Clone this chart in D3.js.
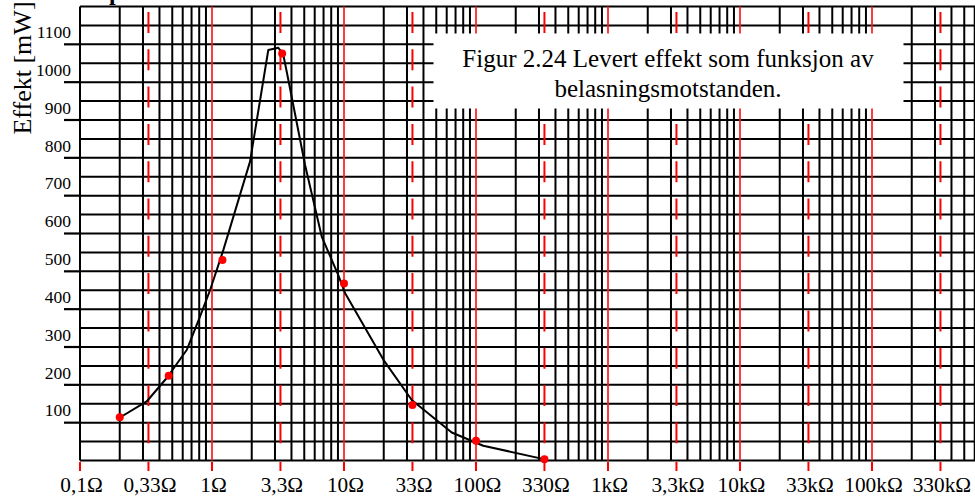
<!DOCTYPE html>
<html>
<head>
<meta charset="utf-8">
<script src="https://cdn.jsdelivr.net/npm/d3@7"></script>
<style>
  html, body { margin: 0; padding: 0; background: #fff; }
  svg { display: block; }
  text { font-family: "Liberation Serif", "Times New Roman", serif; fill: #000; }
</style>
</head>
<body>
<svg id="chart" width="975" height="497"></svg>
<script>
// Load resistance on the x axis (ohm), delivered power on the y axis (mW)
const xTickValues = [0.1, 0.33, 1, 3.3, 10, 33, 100, 330, 1000, 3300, 10000, 33000, 100000, 330000];
const xTickLabels = ["0,1Ω", "0,33Ω", "1Ω", "3,3Ω", "10Ω", "33Ω", "100Ω", "330Ω", "1kΩ", "3,3kΩ", "10kΩ", "33kΩ", "100kΩ", "330kΩ"];
const dashedValues = [0.33, 3.3, 33, 330, 3300, 33000, 330000];
const decadeStarts = [0.1, 1, 10, 100, 1000, 10000, 100000];
const yTickValues = [100, 200, 300, 400, 500, 600, 700, 800, 900, 1000, 1100];
const yTickLabels = ["100", "200", "300", "400", "500", "600", "700", "800", "900", "1000", "1100"];

// Measured points
const measuredOhm = [0.2, 0.47, 1.2, 3.4, 10, 33, 100, 330];
const measuredPower = [114, 224, 530, 1076, 468, 147, 52, 3];

// Hand-drawn trend curve
const curveOhm = [0.195, 0.32, 0.454, 0.643, 0.811, 0.966, 1.218, 1.941, 2.67, 3.18, 3.47, 3.68, 5.07, 6.78, 9.05, 10.2, 19.9, 32.6, 65.5, 113.5, 333];
const curvePower = [111, 156, 218, 292, 380, 450, 556, 790, 1085, 1091, 1072, 1028, 781, 592, 490, 442, 266, 160, 74, 39, 3];

const captionLines = ["Figur 2.24 Levert effekt som funksjon av", "belasningsmotstanden."];
const yTitle = "Effekt [mW]";

const svg = d3.select("#chart");
const W = 975;

const x = d3.scaleLog().domain([0.1, 1e6]).range([80, 80 + 132 * 7]);
const y = d3.scaleLinear().domain([0, 1200]).range([460.5, 6.5]);

const x0 = x(0.1), y0 = y(0), yTop = y(1200);

// Horizontal grid every 50 mW
const hVals = d3.range(0, 1201, 50);
svg.append("g").selectAll("line").data(hVals).join("line")
  .attr("x1", x0).attr("x2", W)
  .attr("y1", d => y(d)).attr("y2", d => y(d))
  .attr("stroke", "#000").attr("stroke-width", 2);

// Vertical grid: 1..9 within each decade
const vBlack = [];
const vRed = [];
decadeStarts.forEach(d => {
  for (let m = 1; m <= 9; m++) {
    const v = d * m;
    if (m === 1 && d >= 1) vRed.push(v); else vBlack.push(v);
  }
});
svg.append("g").selectAll("line").data(vBlack.filter(v => x(v) <= W + 2)).join("line")
  .attr("x1", d => x(d)).attr("x2", d => x(d))
  .attr("y1", yTop).attr("y2", y0)
  .attr("stroke", "#000").attr("stroke-width", 2);

svg.append("g").selectAll("line").data(vRed).join("line")
  .attr("x1", d => x(d)).attr("x2", d => x(d))
  .attr("y1", yTop).attr("y2", y0)
  .attr("stroke", "#ff1a1a").attr("stroke-width", 2).attr("stroke-opacity", 0.85);

// Dashed red lines at the 3.3 values
svg.append("g").selectAll("line").data(dashedValues).join("line")
  .attr("x1", d => x(d)).attr("x2", d => x(d))
  .attr("y1", 12).attr("y2", 444)
  .attr("stroke", "#ff0000").attr("stroke-width", 2)
  .attr("stroke-dasharray", "21 16.3");

// Left y ticks and labels
svg.append("g").selectAll("line").data(yTickValues).join("line")
  .attr("x1", x0 - 16).attr("x2", x0)
  .attr("y1", d => y(d)).attr("y2", d => y(d))
  .attr("stroke", "#000").attr("stroke-width", 2.2);

svg.append("g").selectAll("text").data(yTickValues).join("text")
  .attr("x", 71).attr("y", d => y(d) - 6.2)
  .attr("text-anchor", "end")
  .attr("font-size", 17.5)
  .text((d, i) => yTickLabels[i]);

// Bottom red ticks and labels
svg.append("g").selectAll("line").data(xTickValues).join("line")
  .attr("x1", d => x(d)).attr("x2", d => x(d))
  .attr("y1", y0 + 1.5).attr("y2", y0 + 10.5)
  .attr("stroke", "#ff0000").attr("stroke-width", 2);

svg.append("g").selectAll("text").data(xTickValues).join("text")
  .attr("x", d => x(d) + 1.5).attr("y", 491.5)
  .attr("text-anchor", "middle")
  .attr("font-size", 21.3)
  .text((d, i) => xTickLabels[i]);

// Y axis title
svg.append("text")
  .attr("transform", "translate(31,68) rotate(-90)")
  .attr("text-anchor", "middle")
  .attr("font-size", 26)
  .text(yTitle);

// Heading above the frame (mostly outside the view)
svg.append("text")
  .attr("x", 109).attr("y", 0)
  .attr("font-size", 24).attr("font-weight", "bold")
  .text("p");

// Caption box
const box = svg.append("g");
box.append("rect")
  .attr("x", 433.5).attr("y", 33.5).attr("width", 470).attr("height", 75)
  .attr("fill", "#fff");
box.selectAll("text").data(captionLines).join("text")
  .attr("x", 668).attr("y", (d, i) => 66.5 + i * 30)
  .attr("text-anchor", "middle")
  .attr("font-size", 25)
  .text(d => d);

// Trend curve
const curveData = curveOhm.map((r, i) => [r, curvePower[i]]);
svg.append("path")
  .datum(curveData)
  .attr("fill", "none")
  .attr("stroke", "#000").attr("stroke-width", 2)
  .attr("stroke-linejoin", "round")
  .attr("d", d3.line().x(d => x(d[0])).y(d => y(d[1])).curve(d3.curveLinear));

// Measured points
svg.append("g").selectAll("circle").data(measuredOhm).join("circle")
  .attr("cx", d => x(d))
  .attr("cy", (d, i) => y(measuredPower[i]))
  .attr("r", 4)
  .attr("fill", "#ff0000");
</script>
</body>
</html>
